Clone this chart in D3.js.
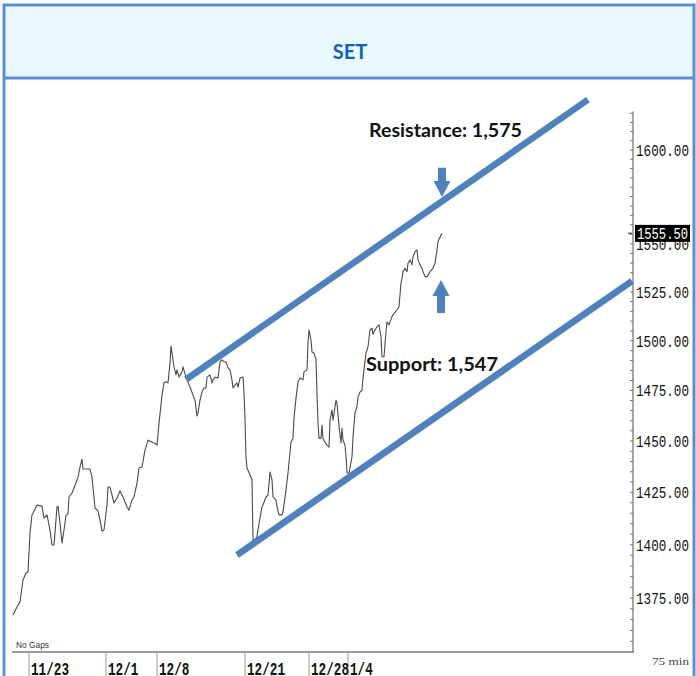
<!DOCTYPE html>
<html>
<head>
<meta charset="utf-8">
<script src="https://cdn.jsdelivr.net/npm/d3@7"></script>
<style>
body { margin: 0; background: #fff; }
svg { display: block; }
</style>
</head>
<body>
<svg id="chart" width="696" height="676"></svg>
<script>
// SET index, 75 min bars (step = position along the time axis)
var title = "SET";

var steps = [
  1,5,8,11,14,16,18,20,21,25, 30,32,35,38,40,42,45,46,48,50, 52,54,56,57,60,62,66,68,70,71, 78,80,83,86,88,90,92,
  95,96,98,100,102,105,108,111,115,117, 120,122,125,127,130,133,136,140,143,145,
  147,150,152,154,156,158,159,161,162,164, 165,167,170,171,175,178,181,183,185,186,
  188,190,192,194,195,198,200,201,203,206, 208,210,212,214,216,218,220,221,223,225,
  226,228,231,232,233,234,235,238,
  240,241,243,245,247,250,252,254,256,258, 260,261,264,265,267,270,271,274,276,279,
  281,282,284,286,288,291,292,295,296,297, 299,300,302,304,305,306,307,309,310,311,
  313,315,317,318,320,321,323,324,325,327, 329,330,331,333,334,335,337,340,341,343,
  345,346,348,350,351,352,354,356,358,360, 361,363,365,367,369,370,372,374,375,377,
  380,382,385,387,389,390,391,393,395,396, 398,400,401,403,405,406,408,410,411,413,
  415,418,421,423,425,426,429,430
];

var prices = [
  1367.0,1370.9,1373.2,1383.4,1386.7,1387.3,1405.6,1414.2,1415.0,1418.9,
  1418.4,1412.7,1414.2,1407.0,1399.9,1399.9,1418.0,1418.4,1410.4,1400.8,
  1407.0,1414.2,1414.6,1422.8,1424.7,1427.1,1432.4,1437.3,1441.1,1436.3,
  1436.3,1432.4,1417.5,1416.1,1411.8,1406.5,1407.0,
  1418.9,1427.6,1427.6,1423.7,1419.9,1422.3,1425.7,1422.8,1418.0,1416.5,
  1421.3,1422.8,1429.5,1436.8,1437.3,1445.5,1450.4,1449.4,1448.9,1448.0,
  1458.8,1472.7,1478.8,1479.3,1478.8,1488.8,1497.3,1490.3,1486.8,1482.8,
  1485.3,1481.7,1484.3,1486.8,1480.3,1476.7,1472.7,1470.2,1462.3,1463.8,
  1470.2,1474.2,1476.2,1476.2,1481.7,1482.8,1478.8,1480.3,1481.7,1481.2,
  1489.3,1490.3,1489.3,1489.3,1486.3,1485.3,1480.3,1476.2,1477.7,1478.8,
  1476.7,1481.2,1481.7,1474.2,1460.3,1442.1,1436.8,1433.4,
  1431.1,1402.3,1402.3,1403.9,1410.1,1418.0,1420.3,1422.8,1423.7,1434.9,
  1431.1,1422.8,1421.3,1418.0,1414.2,1414.2,1415.6,1426.2,1434.4,1449.4,
  1451.4,1461.3,1471.2,1479.3,1481.2,1480.3,1484.3,1485.3,1498.9,1505.5,
  1500.4,1494.3,1493.8,1490.3,1473.7,1458.8,1451.4,1451.4,1457.8,1451.4,
  1449.4,1448.0,1447.0,1460.3,1465.3,1460.3,1466.8,1470.2,1468.7,1457.3,
  1449.0,1456.3,1450.4,1448.0,1442.3,1434.4,1434.4,1442.3,1451.9,1463.8,
  1466.9,1471.7,1474.2,1475.1,1481.2,1485.3,1493.8,1497.0,1505.5,1506.4,
  1503.3,1505.5,1507.2,1508.1,1502.1,1491.9,1491.9,1504.6,1509.7,1508.1,
  1512.3,1514.0,1515.7,1517.4,1529.5,1532.1,1535.5,1537.3,1535.5,1539.9,
  1541.6,1539.0,1543.3,1545.9,1546.8,1541.6,1539.0,1537.3,1535.5,1532.9,
  1532.9,1535.5,1537.3,1539.9,1546.8,1551.2,1554.7,1555.5
];

var yTicks = [1375, 1400, 1425, 1450, 1475, 1500, 1525, 1550, 1600];
var dateLabels = ["11/23", "12/1", "12/8", "12/21", "12/28", "1/4"];
var dateSteps = [17, 94, 145, 233, 297, 336];
var lastPrice = 1555.50;

// channel lines
var resistanceSteps = [174, 576];
var resistancePrices = [1480.5, 1627.5];
var supportSteps = [225, 620];
var supportPrices = [1395.2, 1530.7];

// arrows: [tail, tip]
var resistanceArrowStep = 430;
var resistanceArrowPrices = [1590.4, 1574.8];
var supportArrowStep = 429;
var supportArrowPrices = [1514.2, 1531.2];

var resistanceText = "Resistance: 1,575";
var supportText = "Support: 1,547";

var blue = "#4f81bd";
var frameBlue = "#5a8fd6";
var monoFont = "'Liberation Mono', 'DejaVu Sans Mono', monospace";

var svg = d3.select("#chart");

var x = d3.scaleLinear().domain([0, 622]).range([12, 634]);
var y = d3.scaleLog().domain([1375, 1600]).range([598, 150]);

// header band + frame
svg.append("rect").attr("x", 4).attr("y", 5).attr("width", 690).attr("height", 73)
  .attr("fill", "#e8f8fc");
svg.append("line").attr("x1", 4).attr("x2", 694).attr("y1", 78).attr("y2", 78)
  .attr("stroke", frameBlue).attr("stroke-width", 3);
svg.append("rect").attr("x", 4).attr("y", 5).attr("width", 690).attr("height", 700)
  .attr("fill", "none").attr("stroke", frameBlue).attr("stroke-width", 3);
svg.append("text").attr("x", 350).attr("y", 59).attr("text-anchor", "middle")
  .attr("font-family", "Lato, 'Open Sans', sans-serif").attr("font-weight", "bold")
  .attr("font-size", 20).attr("fill", "#1262b0").text(title);

// axes
var axisTop = y(1621), axisBottom = 652;
svg.append("line").attr("x1", 633).attr("x2", 633).attr("y1", axisTop).attr("y2", axisBottom)
  .attr("stroke", "#8a8a8a").attr("stroke-width", 1.5);
svg.append("line").attr("x1", 12).attr("x2", 634).attr("y1", axisBottom).attr("y2", axisBottom)
  .attr("stroke", "#7a7a7a").attr("stroke-width", 1.5);

svg.selectAll(".minor").data(d3.range(1355, 1621, 5)).enter().append("line")
  .attr("x1", 630).attr("x2", 633)
  .attr("y1", function(d){ return y(d); }).attr("y2", function(d){ return y(d); })
  .attr("stroke", "#777").attr("stroke-width", 1);

svg.selectAll(".ylab").data(yTicks).enter().append("text")
  .attr("x", 636).attr("y", function(d){ return y(d); }).attr("dy", "0.36em")
  .attr("font-family", monoFont)
  .attr("font-size", 16.5).attr("fill", "#111")
  .attr("textLength", 53).attr("lengthAdjust", "spacingAndGlyphs")
  .text(function(d){ return d3.format(".2f")(d); });

// last price marker
var lp = y(lastPrice);
svg.append("rect").attr("x", 635).attr("y", lp - 8.5).attr("width", 55).attr("height", 17)
  .attr("fill", "#000");
svg.append("text").attr("x", 637).attr("y", lp).attr("dy", "0.36em")
  .attr("font-family", monoFont)
  .attr("font-size", 16.5).attr("fill", "#fff")
  .attr("textLength", 51).attr("lengthAdjust", "spacingAndGlyphs")
  .text(d3.format(".2f")(lastPrice));
svg.append("line").attr("x1", 628).attr("x2", 632).attr("y1", lp).attr("y2", lp)
  .attr("stroke", "#555").attr("stroke-width", 1.5);

// date separators and labels
svg.selectAll(".sep").data(dateSteps).enter().append("line")
  .attr("x1", function(d){ return x(d); }).attr("x2", function(d){ return x(d); })
  .attr("y1", axisBottom).attr("y2", 676)
  .attr("stroke", "#9a9a9a").attr("stroke-width", 1);
svg.selectAll(".xlab").data(dateLabels).enter().append("text")
  .attr("x", function(d, i){ return x(dateSteps[i]) + 2; }).attr("y", 675)
  .attr("font-family", monoFont)
  .attr("font-weight", "bold").attr("font-size", 17.5).attr("fill", "#111")
  .attr("textLength", function(d){ return d.length * 7.6; })
  .attr("lengthAdjust", "spacingAndGlyphs")
  .text(function(d){ return d; });

svg.append("text").attr("x", 16).attr("y", 648)
  .attr("font-family", "'Liberation Sans', sans-serif").attr("font-size", 9)
  .attr("fill", "#333").attr("textLength", 33).attr("lengthAdjust", "spacingAndGlyphs")
  .text("No Gaps");
svg.append("text").attr("x", 652).attr("y", 665)
  .attr("font-family", "'Liberation Serif', serif").attr("font-size", 11)
  .attr("fill", "#444").attr("textLength", 37).attr("lengthAdjust", "spacingAndGlyphs")
  .text("75 min");

// price line
var pts = steps.map(function(s, i){ return [s, prices[i]]; });
var line = d3.line().x(function(d){ return x(d[0]); }).y(function(d){ return y(d[1]); });
svg.append("path").attr("d", line(pts)).attr("fill", "none")
  .attr("stroke", "#4a4a4a").attr("stroke-width", 1.1).attr("stroke-linejoin", "round");

// channel lines
function channel(st, pr, shadow) {
  var p = st.map(function(s, i){ return [s, pr[i]]; });
  if (shadow) {
    svg.append("path").attr("d", line(p)).attr("transform", "translate(1,2.5)")
      .attr("fill", "none").attr("stroke", "#888").attr("stroke-width", 2).attr("opacity", 0.6);
  }
  svg.append("path").attr("d", line(p)).attr("fill", "none")
    .attr("stroke", blue).attr("stroke-width", 6.5);
}
channel(resistanceSteps, resistancePrices, false);
channel(supportSteps, supportPrices, true);

// arrows
function arrow(step, pr) {
  var cx = x(step), y0 = y(pr[0]), y1 = y(pr[1]);
  var dir = y1 > y0 ? 1 : -1, head = 16;
  var yh = y1 - dir * head;
  var pts = [[cx - 4, y0], [cx + 4, y0], [cx + 4, yh], [cx + 8.5, yh], [cx, y1],
             [cx - 8.5, yh], [cx - 4, yh]];
  svg.append("polygon").attr("points", pts.map(function(p){ return p.join(","); }).join(" "))
    .attr("fill", blue);
}
arrow(resistanceArrowStep, resistanceArrowPrices);
arrow(supportArrowStep, supportArrowPrices);

svg.append("text").attr("x", 369).attr("y", 137)
  .attr("font-family", "Lato, 'Open Sans', sans-serif").attr("font-weight", "bold")
  .attr("font-size", 18).attr("fill", "#111")
  .attr("textLength", 153).attr("lengthAdjust", "spacingAndGlyphs")
  .text(resistanceText);
svg.append("text").attr("x", 366).attr("y", 371)
  .attr("font-family", "Lato, 'Open Sans', sans-serif").attr("font-weight", "bold")
  .attr("font-size", 18).attr("fill", "#111")
  .attr("textLength", 132).attr("lengthAdjust", "spacingAndGlyphs")
  .text(supportText);
</script>
</body>
</html>
